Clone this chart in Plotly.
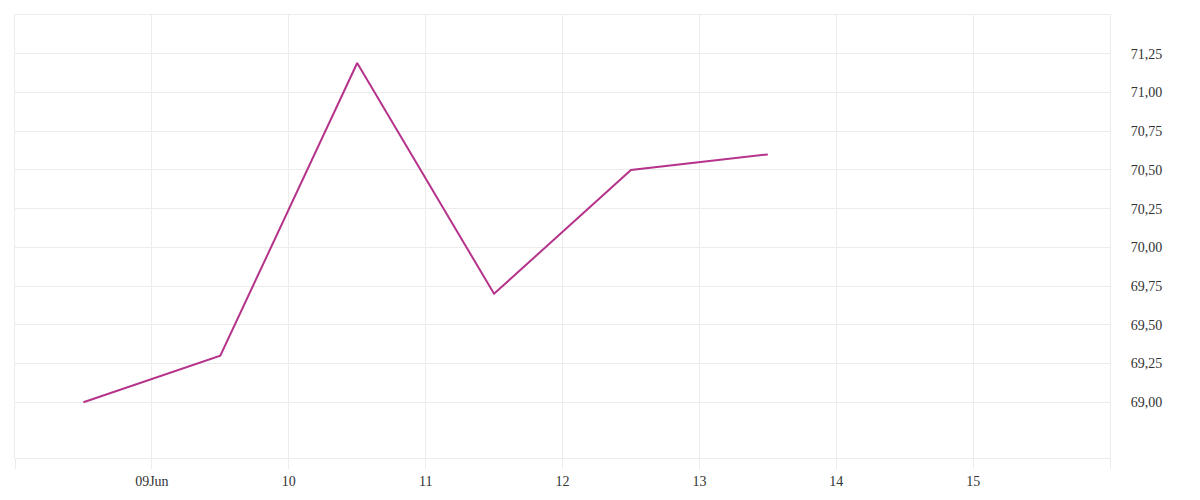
import plotly.graph_objects as go

dates = ["2024-06-08 12:00", "2024-06-09 12:00", "2024-06-10 12:00",
         "2024-06-11 12:00", "2024-06-12 12:00", "2024-06-13 12:00"]
values = [69.00, 69.30, 71.19, 69.70, 70.50, 70.60]

x_tickvals = ["2024-06-08", "2024-06-09", "2024-06-10", "2024-06-11", "2024-06-12",
              "2024-06-13", "2024-06-14", "2024-06-15", "2024-06-16"]
x_ticktext = ["", "09Jun", "10", "11", "12", "13", "14", "15", ""]
y_tickvals = [69.00, 69.25, 69.50, 69.75, 70.00, 70.25, 70.50, 70.75, 71.00, 71.25]

grid = "#ececec"
font = "Liberation Serif"

fig = go.Figure()
fig.add_trace(go.Scatter(x=dates, y=values, mode="lines",
                         line=dict(color="#b5338a", width=2), hoverinfo="x+y"))

fig.update_layout(
    width=1184, height=484,
    margin=dict(l=7, r=82, t=7, b=34),
    paper_bgcolor="white", plot_bgcolor="white",
    separators=", ",
    showlegend=False,
    font=dict(family=font, size=14, color="#333333"),
)
fig.update_xaxes(
    type="date",
    range=["2024-06-08", "2024-06-16"],
    tickvals=x_tickvals, ticktext=x_ticktext,
    showgrid=True, gridcolor=grid, gridwidth=1,
    showline=True, linecolor=grid, linewidth=1, mirror=True,
    ticks="outside", ticklen=10, tickcolor=grid, tickwidth=1,
    ticklabelstandoff=0, automargin=False,
    zeroline=False,
    tickfont=dict(family=font, size=14, color="#333333"),
)
fig.update_yaxes(
    side="right",
    range=[68.64, 71.5],
    tickvals=y_tickvals, tickformat=".2f",
    showgrid=True, gridcolor=grid, gridwidth=1,
    showline=True, linecolor=grid, linewidth=1, mirror=True,
    ticks="outside", ticklen=17, tickcolor="rgba(0,0,0,0)",
    automargin=False,
    zeroline=False,
    tickfont=dict(family=font, size=14, color="#333333"),
)

fig.write_html("out.html")
